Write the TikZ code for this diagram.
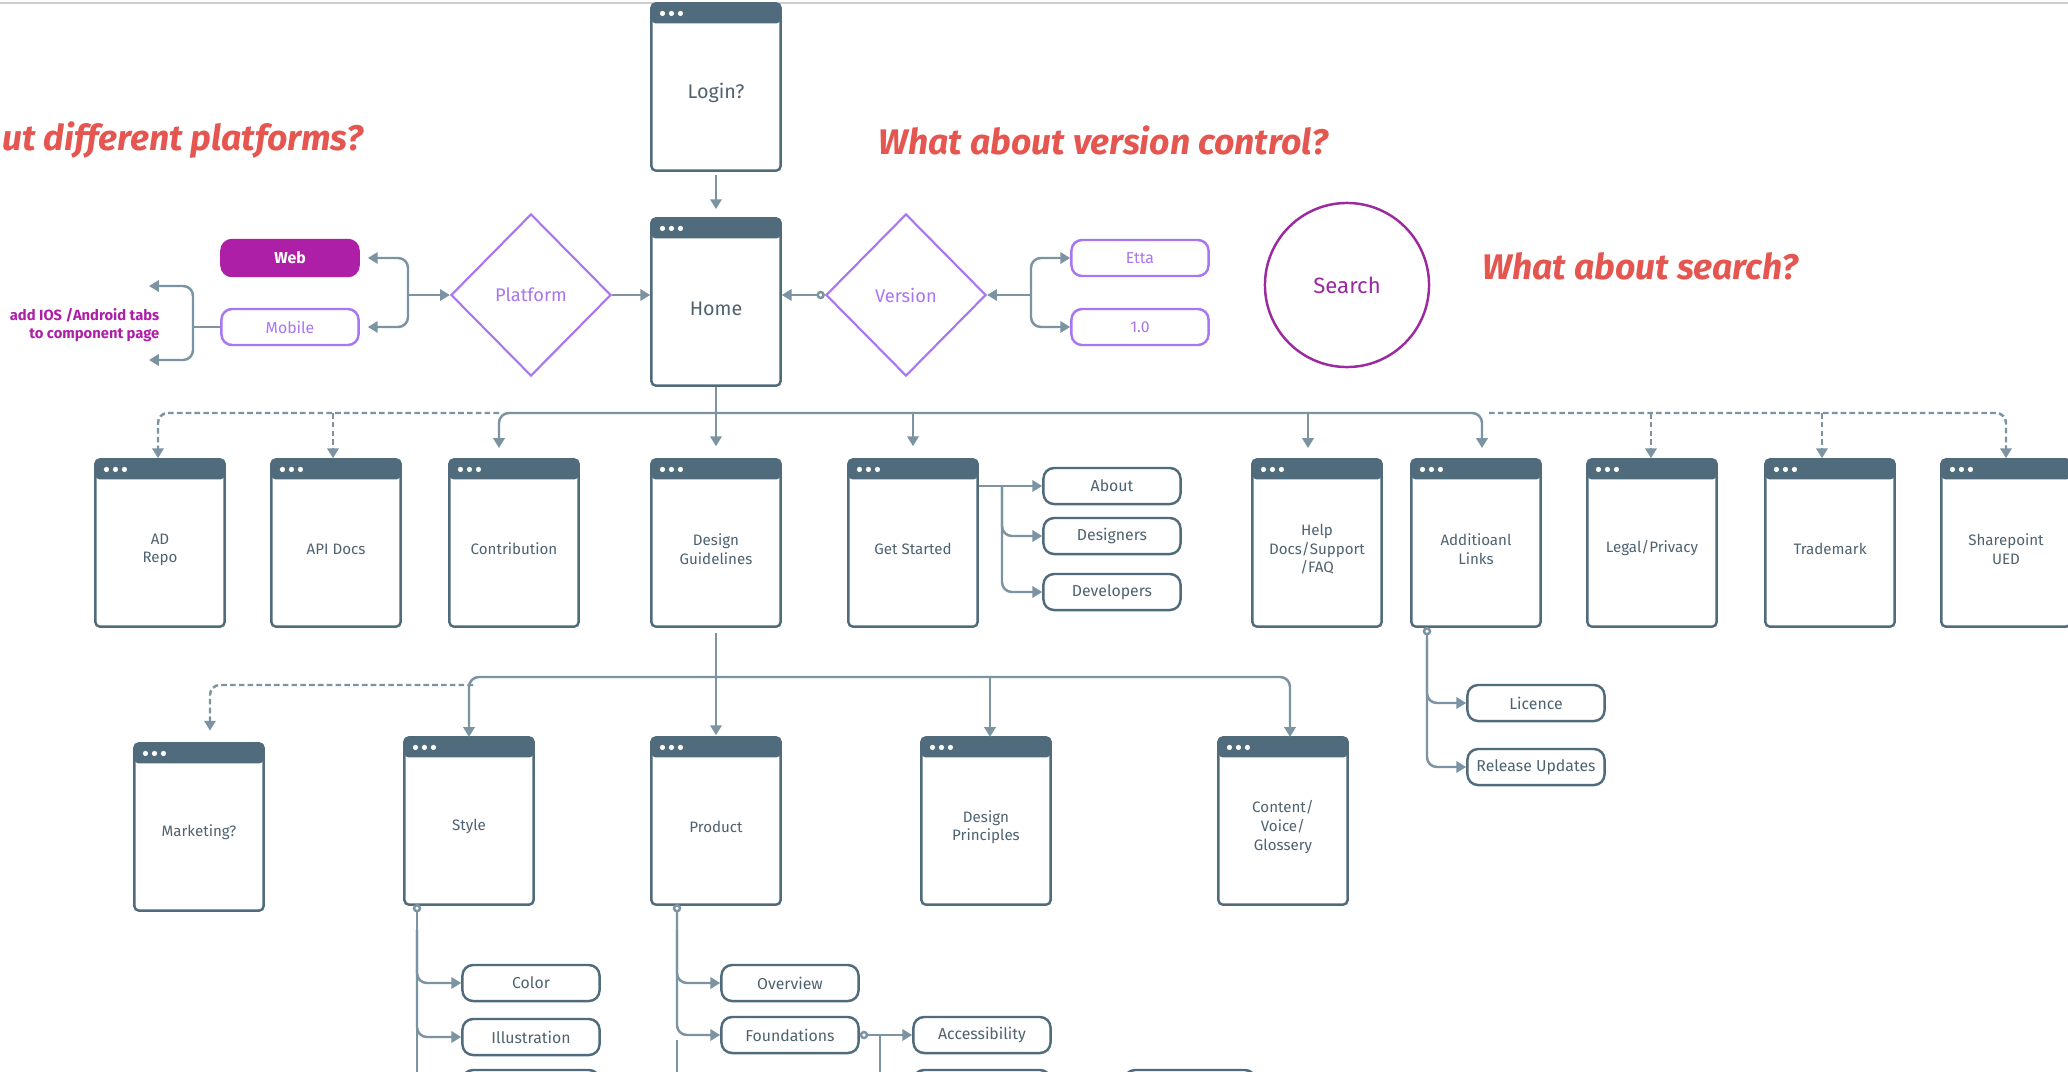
\documentclass[tikz,border=0pt]{standalone}
\usepackage{fontspec}
\setmainfont{Fira Sans}
\usetikzlibrary{arrows.meta,shapes.geometric,calc}

\definecolor{slate}{RGB}{80,107,123}
\definecolor{wire}{RGB}{124,148,162}
\definecolor{lav}{RGB}{168,118,240}
\definecolor{brandpink}{RGB}{173,31,167}
\definecolor{plum}{RGB}{154,42,158}
\definecolor{alert}{RGB}{228,86,79}
\definecolor{labeltext}{RGB}{78,98,112}
\definecolor{rule}{RGB}{205,205,205}

\newcommand\boxfont{\fontsize{4.3pt}{5.3pt}\selectfont}
\newcommand\pillfont{\fontsize{4.5pt}{5.4pt}\selectfont}
\newcommand\bigfont{\fontsize{5.6pt}{6.5pt}\selectfont}
\newcommand\choicefont{\fontsize{5.2pt}{6.2pt}\selectfont}
\newcommand\searchfont{\fontsize{6.3pt}{7.2pt}\selectfont}
\newcommand\notefont{\fontsize{4.2pt}{5.1pt}\selectfont\bfseries}
\newcommand\headfont{\fontsize{10.1pt}{12pt}\selectfont\bfseries\itshape}

\tikzset{
  % page window: slate title bar with three dots; the label box is made
  % taller on top so that the text sits a little below the middle
  win/.style={draw=slate, line width=0.7pt, fill=white, rounded corners=1.2pt,
    minimum width=1.29cm, minimum height=1.67cm, inner sep=0pt, align=center,
    font=\boxfont, text=labeltext, text height=6.4pt,
    path picture={
      \fill[slate] (path picture bounding box.north west) rectangle
        ($(path picture bounding box.north east)+(0,20)$);
      \foreach \dx in {11,20,29}
        \fill[white] ($(path picture bounding box.north west)+(\dx,10)$) circle (2.6);
    }},
  wintwo/.style={win, text height=12.2pt},
  winthree/.style={win, text height=17.5pt},
  bigwin/.style={win, font=\bigfont, text height=7.8pt},
  pill/.style={draw=slate, line width=0.7pt, fill=white, rounded corners=3pt,
    minimum width=1.37cm, minimum height=0.36cm, inner sep=0pt,
    font=\pillfont, text=labeltext},
  vpill/.style={pill, draw=lav, text=lav},
  webpill/.style={pill, draw=brandpink, fill=brandpink, text=white, font=\pillfont\bfseries},
  decision/.style={diamond, draw=lav, line width=0.6pt, fill=white,
    minimum width=1.60cm, minimum height=1.62cm, inner sep=0pt,
    text=lav, font=\choicefont},
  heading/.style={font=\headfont, text=alert, inner sep=0pt},
  note/.style={font=\notefont, text=brandpink, inner sep=0pt, align=right},
  conn/.style={draw=wire, line width=0.7pt},
  dconn/.style={conn, dash pattern=on 1.6pt off 0.9pt},
  elbow/.style={rounded corners=2.8pt},
}

\begin{document}
\begin{tikzpicture}[x=0.01cm, y=-0.01cm, >={Triangle[length=2.8pt,width=3.2pt]}]
\useasboundingbox (0,0) rectangle (2068,1072);
\clip (0,0) rectangle (2068,1072);
\fill[white] (0,0) rectangle (2068,1072);
\draw[rule, line width=0.5pt] (0,3) -- (2068,3);

% questions
\node[heading, anchor=east] (qplat) at (364,140) {ut different platforms?};
\node[heading, anchor=west] (qver) at (878,140) {What about version control?};
\node[heading, anchor=west] (qsearch) at (1482,266) {What about search?};

% entry pages
\node[bigwin] (login) at (716,87) {Login?};
\node[bigwin] (home) at (716,302) {Home};

% platform / version choices
\node[decision] (platform) at (531,295) {Platform};
\node[decision] (version) at (906,295) {Version};
\node[webpill] (web) at (290,258) {Web};
\node[vpill] (mobile) at (290,327) {Mobile};
\node[vpill] (etta) at (1140,258) {Etta};
\node[vpill] (v10) at (1140,327) {1.0};
\node[note, anchor=east] (iosnote) at (160,325) {add IOS /Android tabs\\to component page};

\node[circle, draw=plum, line width=0.7pt, minimum size=1.64cm, inner sep=0pt,
      text=plum, font=\searchfont] (search) at (1347,285) {Search};

% first level pages
\node[wintwo] (adrepo) at (160,543) {AD\\Repo};
\node[win] (apidocs) at (336,543) {API Docs};
\node[win] (contrib) at (514,543) {Contribution};
\node[wintwo] (guides) at (716,543) {Design\\Guidelines};
\node[win] (started) at (913,543) {Get Started};
\node[winthree] (help) at (1317,543) {Help\\Docs/Support\\/FAQ};
\node[wintwo] (links) at (1476,543) {Additioanl\\Links};
\node[win] (legal) at (1652,543) {Legal/Privacy};
\node[win] (trade) at (1830,543) {Trademark};
\node[wintwo] (share) at (2006,543) {Sharepoint\\UED};

\node[pill] (about) at (1112,486) {About};
\node[pill] (designers) at (1112,536) {Designers};
\node[pill] (developers) at (1112,592) {Developers};

\node[pill] (licence) at (1536,703) {Licence};
\node[pill] (release) at (1536,767) {Release Updates};

% design guideline pages
\node[win] (marketing) at (199,827) {Marketing?};
\node[win] (style) at (469,821) {Style};
\node[win] (product) at (716,821) {Product};
\node[wintwo] (principles) at (986,821) {Design\\Principles};
\node[winthree] (content) at (1283,821) {Content/\\Voice/\\Glossery};

\node[pill] (color) at (531,983) {Color};
\node[pill] (illus) at (531,1037) {Illustration};
\node[pill] (stylemore) at (531,1088) {};
\node[pill] (overview) at (790,983) {Overview};
\node[pill] (found) at (790,1035) {Foundations};
\node[pill] (access) at (982,1035) {Accessibility};
\node[pill] (accmore) at (982,1088) {};
\node[pill, minimum width=1.31cm] (accmore2) at (1190,1088) {};

% ---- connectors ----
\draw[conn,->,shorten <=1pt,shorten >=2.3pt] (login.south) -- (home.north);

\coordinate (pfork) at (408,295);
\draw[conn,->] (pfork) -- (platform.west);
\draw[conn,->,elbow,shorten >=2.3pt] (pfork) |- (web.east);
\draw[conn,->,elbow,shorten >=2.3pt] (pfork) |- (mobile.east);
\draw[conn,->] (platform.east) -- (platform.east -| home.west);

\draw[conn,{Circle[open,length=2.4pt]}->] (version.west) -- (version.west -| home.east);
\coordinate (vfork) at (1031,295);
\draw[conn,->] (vfork) -- (version.east);
\draw[conn,->,elbow] (vfork) |- (etta.west);
\draw[conn,->,elbow] (vfork) |- (v10.west);

\coordinate (mfork) at (193,327);
\coordinate (iosup) at (149,286);
\coordinate (iosdown) at (149,360);
\draw[conn] (mobile.west) -- (mfork);
\draw[conn,->,elbow] (mfork) |- (iosup);
\draw[conn,->,elbow] (mfork) |- (iosdown);

% home bus
\coordinate (bus) at (716,413);
\coordinate (contribin) at (499,460);
\coordinate (linksin) at (1482,460);
\coordinate (helpin) at (1308,460);
\coordinate (adin) at (158,460);
\coordinate (apiin) at (333,460);
\coordinate (legalin) at (1651,460);
\coordinate (tradein) at (1822,460);
\coordinate (sharein) at (2006,460);
\draw[conn,->,shorten >=3.4pt] (home.south) -- (guides.north);
\draw[conn,->,elbow,shorten >=3.4pt] (bus) -| (contribin);
\draw[conn,->,elbow,shorten >=3.4pt] (bus) -| (linksin);
\draw[conn,->,shorten >=3.4pt] (bus -| started.north) -- (started.north);
\draw[conn,->,shorten >=3.4pt] (bus -| helpin) -- (helpin);
\draw[dconn,->,elbow,shorten >=0.5pt] (contribin |- bus) -| (adin);
\draw[dconn,->,shorten >=0.5pt] (apiin |- bus) -- (apiin);
\draw[dconn,->,elbow,shorten >=0.5pt] ([xshift=2pt]linksin |- bus) -| (sharein);
\draw[dconn,->,shorten >=0.5pt] (legalin |- bus) -- (legalin);
\draw[dconn,->,shorten >=0.5pt] (tradein |- bus) -- (tradein);

% get started children
\coordinate (gsfork) at (1002,486);
\draw[conn,->] (started.east |- about) -- (about.west);
\draw[conn,->,elbow] (gsfork) |- (designers.west);
\draw[conn,->,elbow] (gsfork) |- (developers.west);

% design guideline bus
\coordinate (bus2) at (716,677);
\coordinate (stylein) at (469,738);
\coordinate (contentin) at (1290,738);
\coordinate (princin) at (990,738);
\coordinate (mktfork) at (473,685);
\coordinate (mktin) at (210,744);
\draw[conn,->,shorten <=1.5pt,shorten >=0.3pt] (guides.south) -- (product.north);
\draw[conn,->,elbow,shorten >=0.3pt] (bus2) -| (stylein);
\draw[conn,->,elbow,shorten >=0.3pt] (bus2) -| (contentin);
\draw[conn,->,shorten >=0.3pt] (bus2 -| princin) -- (princin);
\draw[dconn,->,elbow,shorten >=3.8pt] (mktfork) -| (mktin);

% additional links children
\coordinate (linksout) at (1427,627);
\coordinate (linksbr) at (1427,640);
\draw[conn,{Circle[open,length=2.4pt]}->,elbow] (linksout) |- (licence.west);
\draw[conn,->,elbow] (linksbr) |- (release.west);

% style children
\coordinate (styleout) at (417,904);
\coordinate (stylebr) at (417,930);
\coordinate (styleend) at (417,1090);
\draw[conn,{Circle[open,length=2.4pt]}-] (styleout) -- (styleend);
\draw[conn,->,elbow] (stylebr) |- (color.west);
\draw[conn,->,elbow] (stylebr) |- (illus.west);

% product children
\coordinate (prodout) at (677,904);
\coordinate (prodbr) at (677,930);
\coordinate (prodlow) at (677,1040);
\coordinate (prodend) at (677,1090);
\draw[conn,{Circle[open,length=2.4pt]}->,elbow] (prodout) |- (found.west);
\draw[conn,->,elbow] (prodbr) |- (overview.west);
\draw[conn] (prodlow) -- (prodend);

\coordinate (foundbr) at (880,1035);
\coordinate (foundend) at (880,1090);
\draw[conn,{Circle[open,length=2.4pt]}->] (found.east) -- (access.west);
\draw[conn] (foundbr) -- (foundend);
\end{tikzpicture}
\end{document}
